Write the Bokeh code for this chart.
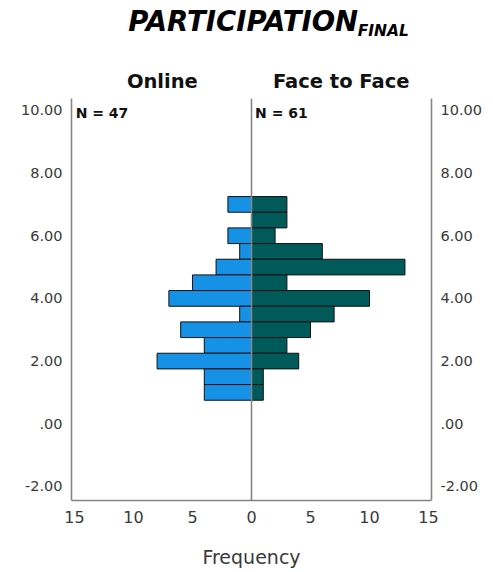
from bokeh.plotting import figure
from bokeh.layouts import column
from bokeh.models import FixedTicker, CustomJSTickFormatter, LinearAxis, Span
from bokeh.core.properties import value
from bokeh.embed import file_html
from bokeh.resources import INLINE

# Data (bins of width 0.5, centres from 1.0 to 7.0)
bin_centers = [7.0, 6.5, 6.0, 5.5, 5.0, 4.5, 4.0, 3.5, 3.0, 2.5, 2.0, 1.5, 1.0]
online = [2, 0, 2, 1, 3, 5, 7, 1, 6, 4, 8, 4, 4]
face_to_face = [3, 3, 2, 6, 13, 3, 10, 7, 5, 3, 4, 1, 1]
y_ticks = [-2, 0, 2, 4, 6, 8, 10]
x_ticks = [-15, -10, -5, 0, 5, 10, 15]
group_names = ["Online", "Face to Face"]
group_pos = [-7.55, 7.6]
n_online = sum(online)
n_f2f = sum(face_to_face)

FONT = "DejaVu Sans"
BLUE = "#1592e6"
TEAL = "#005a5a"
FRAME = "#858585"

W = 485
BL, BR = 71, 52
XR = (-15.25, 15.25)
TOP_H = 55

# ---- title strip ----
top = figure(width=W, height=TOP_H, x_range=XR, y_range=(0, TOP_H), title=None,
             output_backend="svg", toolbar_location=None,
             min_border_left=BL, min_border_right=BR, min_border_top=0, min_border_bottom=0,
             x_axis_location=None, y_axis_location=None)
top.outline_line_color = None
top.xgrid.visible = False
top.ygrid.visible = False

top.text(x=[-10.45], y=[TOP_H - 20.5], text=["PARTICIPATION"], text_font=value(FONT),
         text_font_size="27.5px", text_font_style="bold italic", text_color="black",
         text_baseline="middle", text_align="left")
top.text(x=[9.0], y=[TOP_H - 30], text=["FINAL"], text_font=value(FONT),
         text_font_size="15.5px", text_font_style="bold italic", text_color="black",
         text_baseline="middle", text_align="left")

# ---- main pyramid ----
p = figure(width=W, height=570 - TOP_H, x_range=XR, y_range=(-2.45, 10.38), title=None,
           output_backend="svg", toolbar_location=None,
           min_border_left=BL, min_border_right=BR, min_border_top=98 - TOP_H,
           min_border_bottom=70,
           y_axis_location=None, x_axis_location=None)
p.outline_line_color = None
p.xgrid.visible = False
p.ygrid.visible = False

p.hbar(y=bin_centers, left=[-v for v in online], right=0, height=0.5,
       fill_color=BLUE, line_color="#111111", line_width=1)
p.hbar(y=bin_centers, left=0, right=face_to_face, height=0.5,
       fill_color=TEAL, line_color="#111111", line_width=1)

p.add_layout(Span(location=0, dimension="height", line_color=FRAME, line_width=1.6))

p.text(x=[-14.9, 0.3], y=[9.92, 9.92], text=[f"N = {n_online}", f"N = {n_f2f}"],
       text_font=value(FONT), text_font_size="14px", text_font_style="bold",
       text_color="#111111", text_baseline="middle", text_align="left")

yfmt = CustomJSTickFormatter(code="return tick == 0 ? '.00' : tick.toFixed(2);")
xfmt = CustomJSTickFormatter(code="return Math.abs(tick).toString();")
gfmt = CustomJSTickFormatter(args=dict(names=group_names),
                             code="return tick < 0 ? names[0] : names[1];")

def style_axis(ax, fs):
    ax.axis_line_color = FRAME
    ax.axis_line_width = 1.6
    ax.major_tick_line_color = None
    ax.minor_tick_line_color = None
    ax.major_tick_in = 0
    ax.major_tick_out = 0
    ax.major_label_text_font = FONT
    ax.major_label_text_font_size = fs
    ax.major_label_text_color = "#3a3a3a"

left_ax = LinearAxis(ticker=FixedTicker(ticks=y_ticks), formatter=yfmt)
style_axis(left_ax, "14.5px")
left_ax.major_label_standoff = 9
p.add_layout(left_ax, "left")

right_ax = LinearAxis(ticker=FixedTicker(ticks=y_ticks), formatter=yfmt)
style_axis(right_ax, "14.5px")
right_ax.major_label_standoff = 9
p.add_layout(right_ax, "right")

bottom_ax = LinearAxis(ticker=FixedTicker(ticks=x_ticks), formatter=xfmt,
                       axis_label="Frequency")
style_axis(bottom_ax, "16px")
bottom_ax.major_label_standoff = 10
bottom_ax.axis_label_standoff = 20
bottom_ax.axis_label_text_font = FONT
bottom_ax.axis_label_text_font_size = "19px"
bottom_ax.axis_label_text_font_style = "normal"
bottom_ax.axis_label_text_color = "#3a3a3a"
p.add_layout(bottom_ax, "below")

# panel headers as an axis above the frame
top_ax = LinearAxis(ticker=FixedTicker(ticks=group_pos), formatter=gfmt)
style_axis(top_ax, "19.5px")
top_ax.axis_line_color = None
top_ax.major_label_text_font_style = "bold"
top_ax.major_label_text_color = "#111111"
top_ax.major_label_standoff = 6
p.add_layout(top_ax, "above")

layout = column(top, p, spacing=0)
open("out.html", "w").write(file_html(layout, INLINE))
